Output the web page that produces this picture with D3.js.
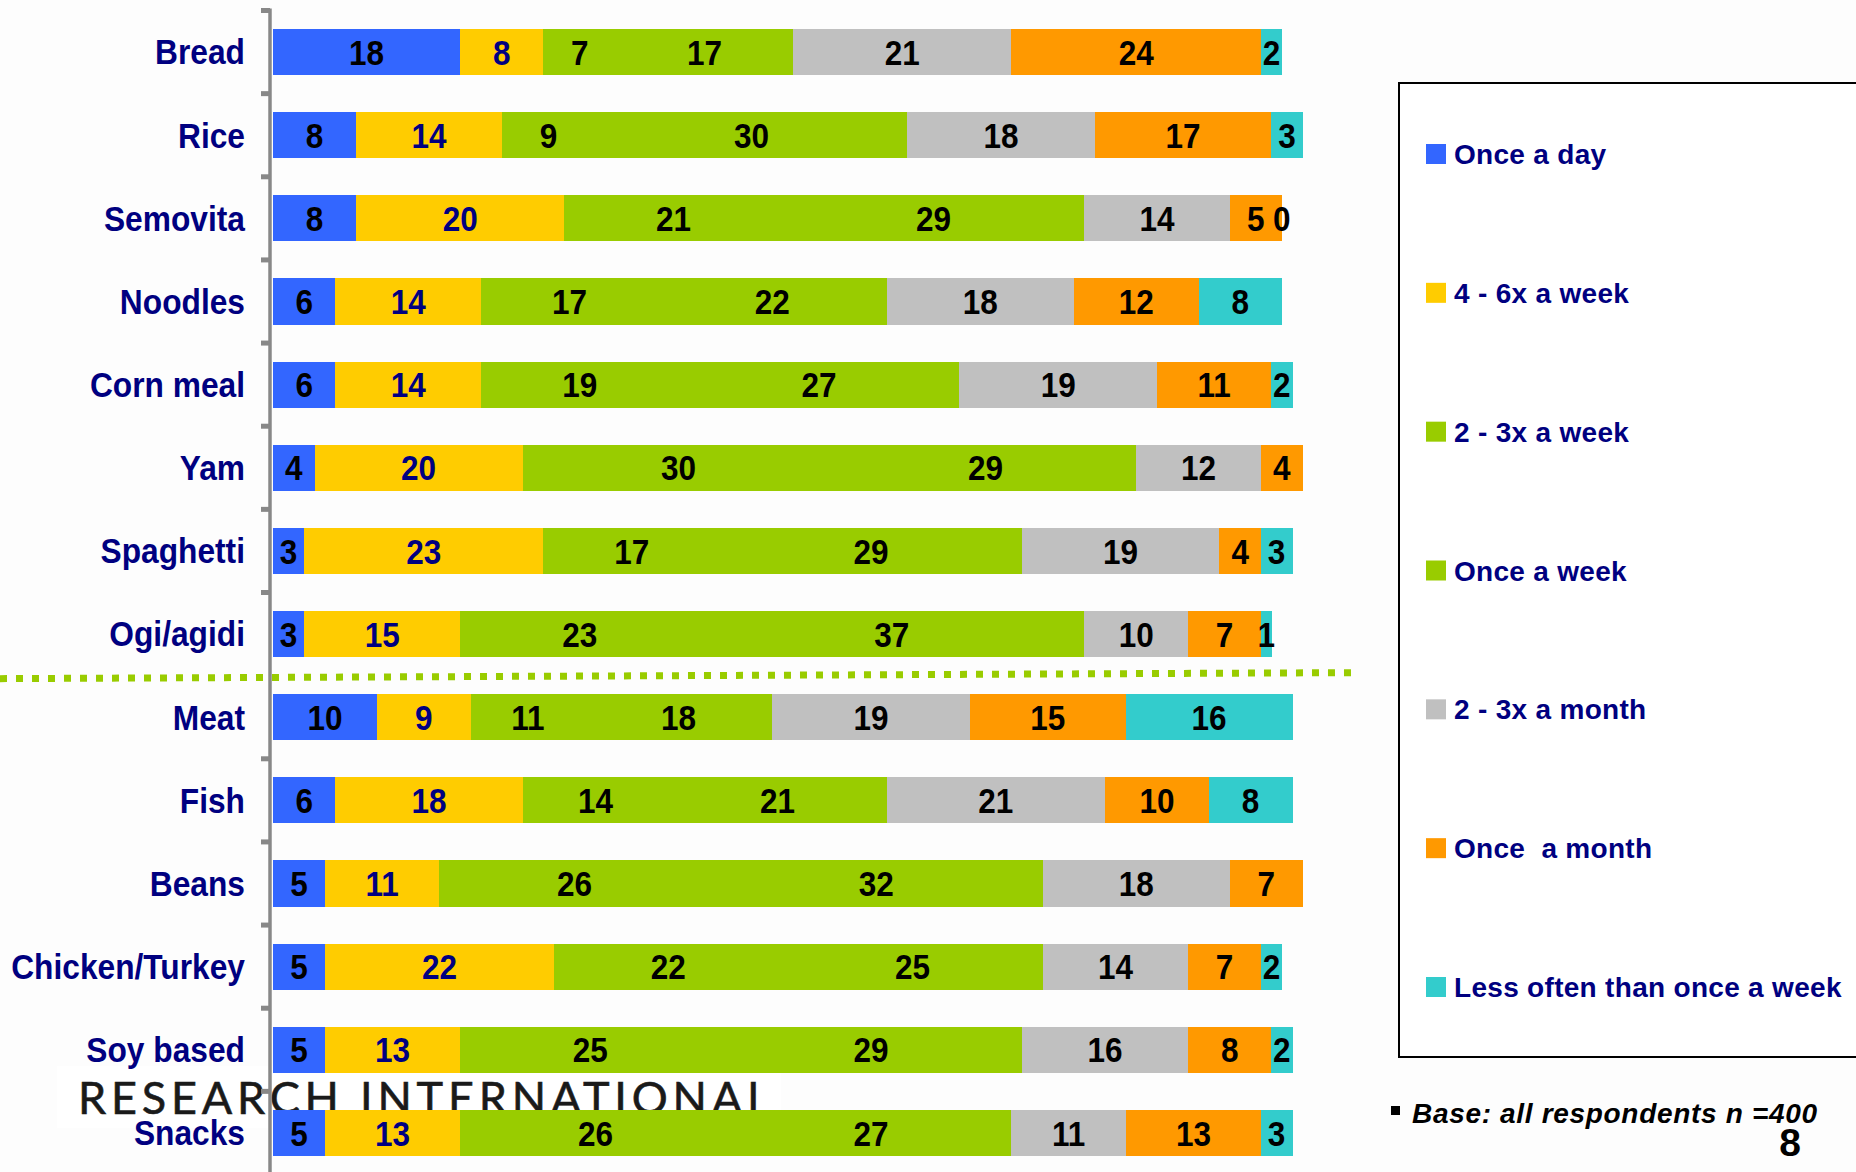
<!DOCTYPE html>
<html>
<head>
<meta charset="utf-8">
<script src="https://cdn.jsdelivr.net/npm/d3@7"></script>
<style>
  html, body { margin: 0; padding: 0; background: #fdfdfd; }
  svg { display: block; }
</style>
</head>
<body>
<div id="chart"></div>
<script>
// ---------- DATA ----------
const categories = ["Bread", "Rice", "Semovita", "Noodles", "Corn meal", "Yam", "Spaghetti",
  "Ogi/agidi", "Meat", "Fish", "Beans", "Chicken/Turkey", "Soy based", "Snacks"];

const seriesNames = ["Once a day", "4 - 6x a week", "2 - 3x a week", "Once a week",
  "2 - 3x a month", "Once  a month", "Less often than once a week"];

const onceADay     = [18, 8, 8, 6, 6, 4, 3, 3, 10, 6, 5, 5, 5, 5];
const fourSixWeek  = [8, 14, 20, 14, 14, 20, 23, 15, 9, 18, 11, 22, 13, 13];
const twoThreeWeek = [7, 9, 21, 17, 19, 30, 17, 23, 11, 14, 26, 22, 25, 26];
const onceAWeek    = [17, 30, 29, 22, 27, 29, 29, 37, 18, 21, 32, 25, 29, 27];
const twoThreeMonth= [21, 18, 14, 18, 19, 12, 19, 10, 19, 21, 18, 14, 16, 11];
const onceAMonth   = [24, 17, 5, 12, 11, 4, 4, 7, 15, 10, 7, 7, 8, 13];
const lessOften    = [2, 3, 0, 8, 2, null, 3, 1, 16, 8, null, 2, 2, 3];

const seriesValues = [onceADay, fourSixWeek, twoThreeWeek, onceAWeek, twoThreeMonth, onceAMonth, lessOften];
const seriesColors = ["#3366FF", "#FFCC00", "#99CC00", "#99CC00", "#C0C0C0", "#FF9900", "#33CCCC"];
const labelColors  = ["#000000", "#000080", "#000000", "#000000", "#000000", "#000000", "#000000"];

const baseNote = "Base: all respondents n =400";
const pageNumber = "8";
const logoText = "RESEARCH INTERNATIONAL";

// ---------- LAYOUT ----------
const W = 1856, H = 1172;
const FONT = "'Liberation Sans', Arial, sans-serif";
const svg = d3.select("#chart").append("svg").attr("width", W).attr("height", H);
svg.append("rect").attr("width", W).attr("height", H).attr("fill", "#fdfdfd");

const x = d3.scaleLinear().domain([0, 100]).range([273, 1313]);
const y = d3.scaleBand().domain(categories).range([10.5, 1174.5])
  .paddingInner(0.446).paddingOuter(0.223);

// logo (behind chart)
const logo = svg.append("g");
logo.append("rect").attr("x", 57).attr("y", 1066).attr("width", 724).attr("height", 62).attr("fill", "#ffffff");
logo.append("text").attr("x", 78).attr("y", 1114)
  .attr("font-family", "Lato, 'DejaVu Sans', sans-serif").attr("font-size", 45)
  .attr("fill", "#1a1a1a").attr("stroke", "#1a1a1a").attr("stroke-width", 0.6)
  .attr("textLength", 692).attr("lengthAdjust", "spacing")
  .text(logoText);

// stacked segments
const stacked = [];
categories.forEach((c, i) => {
  let acc = 0;
  seriesValues.forEach((arr, s) => {
    const v = arr[i];
    if (v === null || v === undefined) return;
    stacked.push({ cat: c, s, v, x0: acc, x1: acc + v });
    acc += v;
  });
});

const bars = svg.append("g").attr("shape-rendering", "crispEdges");
bars.selectAll("rect").data(stacked.filter(d => d.v > 0)).join("rect")
  .attr("x", d => x(d.x0))
  .attr("y", d => y(d.cat))
  .attr("width", d => x(d.x1) - x(d.x0) + 0.6)
  .attr("height", y.bandwidth())
  .attr("fill", d => seriesColors[d.s]);

const valLabels = svg.append("g");
valLabels.selectAll("text").data(stacked).join("text")
  .attr("transform", d => `translate(${(x(d.x0) + x(d.x1)) / 2},${y(d.cat) + y.bandwidth() / 2}) scale(0.9,1)`)
  .attr("dy", "0.36em")
  .attr("text-anchor", "middle")
  .attr("font-family", FONT)
  .attr("font-weight", "bold")
  .attr("font-size", 35)
  .attr("fill", d => labelColors[d.s])
  .text(d => d.v);

// category labels
svg.append("g").selectAll("text").data(categories).join("text")
  .attr("transform", d => `translate(245,${y(d) + y.bandwidth() / 2}) scale(0.92,1)`)
  .attr("dy", "0.36em")
  .attr("text-anchor", "end")
  .attr("font-family", FONT)
  .attr("font-weight", "bold")
  .attr("font-size", 34.5)
  .attr("fill", "#000080")
  .text(d => d);

// dotted separator between Ogi/agidi and Meat
const sepY = (y("Ogi/agidi") + y.bandwidth() + y("Meat")) / 2;
svg.append("line")
  .attr("x1", 0).attr("y1", sepY + 3).attr("x2", 1353).attr("y2", sepY - 3)
  .attr("stroke", "#99CC00").attr("stroke-width", 7).attr("stroke-dasharray", "7 9");

// axis line with ticks at band boundaries
const axisG = svg.append("g");
const bounds = categories.map(c => y(c) - (y.step() - y.bandwidth()) / 2);
bounds.push(bounds[bounds.length - 1] + y.step());
axisG.append("line").attr("x1", 270).attr("x2", 270).attr("y1", bounds[0] - 2).attr("y2", H)
  .attr("stroke", "#888").attr("stroke-width", 3.5);
axisG.selectAll("line.tick").data(bounds.filter((b, i) => i !== 8)).join("line")
  .attr("class", "tick")
  .attr("x1", 261).attr("x2", 270).attr("y1", d => d).attr("y2", d => d)
  .attr("stroke", "#888").attr("stroke-width", 5);

// legend
const legend = svg.append("g");
legend.append("rect").attr("x", 1399).attr("y", 83).attr("width", 520).attr("height", 974)
  .attr("fill", "#ffffff").attr("stroke", "#000").attr("stroke-width", 2);
const ly = d3.scalePoint().domain(seriesNames).range([154, 987]);
const items = legend.selectAll("g.item").data(seriesNames).join("g").attr("class", "item")
  .attr("transform", d => `translate(0,${ly(d)})`);
items.append("rect").attr("x", 1426).attr("y", -10).attr("width", 20).attr("height", 20)
  .attr("fill", (d, i) => seriesColors[i]);
items.append("text").attr("x", 1454).attr("y", 0).attr("dy", "0.36em")
  .attr("font-family", FONT)
  .attr("font-weight", "bold").attr("font-size", 28).attr("fill", "#000080")
  .attr("letter-spacing", 0.3)
  .style("white-space", "pre")
  .text(d => d);

// base note
svg.append("rect").attr("x", 1391).attr("y", 1106).attr("width", 9).attr("height", 9).attr("fill", "#000");
svg.append("text").attr("x", 1412).attr("y", 1123)
  .attr("font-family", FONT)
  .attr("font-weight", "bold").attr("font-style", "italic").attr("font-size", 28)
  .attr("textLength", 405).attr("lengthAdjust", "spacing")
  .attr("fill", "#000").text(baseNote);

// page number
svg.append("text").attr("x", 1790).attr("y", 1156).attr("text-anchor", "middle")
  .attr("font-family", FONT)
  .attr("font-weight", "bold").attr("font-size", 39).attr("fill", "#000").text(pageNumber);
</script>
</body>
</html>
